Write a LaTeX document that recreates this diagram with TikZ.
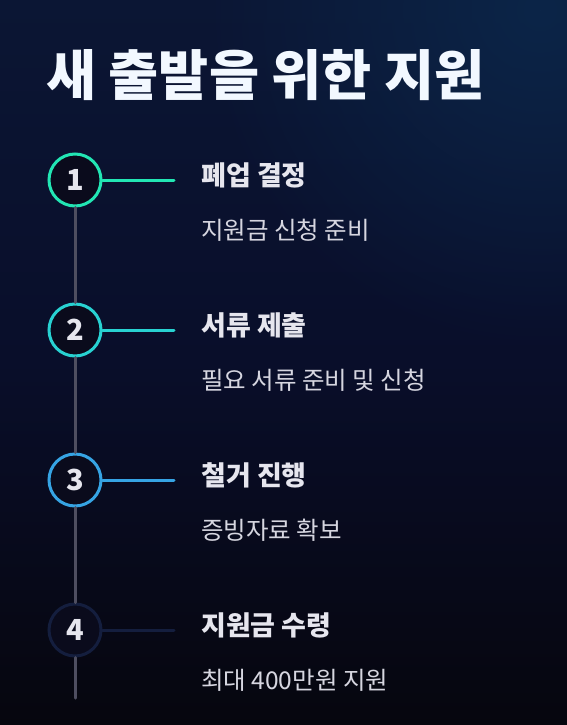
\documentclass[tikz,border=0pt]{standalone}
\usepackage{fontspec}
\setmainfont{Noto Sans CJK KR}
\usetikzlibrary{fadings}
\definecolor{bgtop}{HTML}{0B1634}
\definecolor{bgmid}{HTML}{090E2A}
\definecolor{bgbot}{HTML}{06060E}
\definecolor{glowc}{HTML}{0C2548}
\definecolor{cA}{HTML}{22E6B4}
\definecolor{cB}{HTML}{28D2D2}
\definecolor{cC}{HTML}{36A4E4}
\definecolor{cD}{HTML}{141E3E}
\definecolor{circfill}{HTML}{0A0B1C}
\definecolor{railc}{HTML}{4E4E60}
\definecolor{titlec}{HTML}{F2F8FF}
\definecolor{headc}{HTML}{E6E6EE}
\definecolor{subc}{HTML}{D6D6E0}
\tikzfading[name=glowfade, inner color=transparent!0, outer color=transparent!100]
\tikzset{
  stepcirc/.style={circle, draw=#1, line width=3pt, fill=circfill, minimum size=52pt, inner sep=0pt,
    font=\fontsize{29}{29}\selectfont\bfseries, text=headc},
  link/.style={draw=#1, line width=3pt, line cap=round},
  head/.style={anchor=west, inner sep=0pt, font=\fontsize{27}{27}\selectfont\bfseries, text=headc},
  sub/.style={anchor=west, inner sep=0pt, font=\fontsize{24.5}{24.5}\selectfont, text=subc},
}
\begin{document}
\begin{tikzpicture}[x=1pt,y=-1pt]
\useasboundingbox (0,0) rectangle (567,725);
\shade[top color=bgtop, bottom color=bgbot, middle color=bgmid] (0,0) rectangle (567,725);
\begin{scope}
\clip (0,0) rectangle (567,725);
\fill[glowc, path fading=glowfade] (540,10) circle (340);
\end{scope}
\node[anchor=west, inner sep=0pt, font=\fontsize{54.5}{54.5}\selectfont\bfseries, text=titlec] (title) at (46,75) {새 출발을 위한 지원};
\coordinate (railend) at (75,698);
\node[stepcirc=cA] (c1) at (75,180) {1};
\node[stepcirc=cB] (c2) at (75,330) {2};
\node[stepcirc=cC] (c3) at (75,480) {3};
\node[stepcirc=cD] (c4) at (75,630) {4};
\coordinate (e1) at (174,180);
\coordinate (e2) at (174,330);
\coordinate (e3) at (174,480);
\coordinate (e4) at (174,630);
\draw[link=railc] (c1.south) -- (c2.north);
\draw[link=railc] (c2.south) -- (c3.north);
\draw[link=railc] (c3.south) -- (c4.north);
\draw[link=railc] (c4.south) -- (railend);
\draw[link=cA] (c1.east) -- (e1);
\draw[link=cB] (c2.east) -- (e2);
\draw[link=cC] (c3.east) -- (e3);
\draw[link=cD] (c4.east) -- (e4);
\node[head] (h1) at (201,175) {폐업 결정};
\node[sub] (s1) at (201,230) {지원금 신청 준비};
\node[head] (h2) at (201,325) {서류 제출};
\node[sub] (s2) at (201,380) {필요 서류 준비 및 신청};
\node[head] (h3) at (201,475) {철거 진행};
\node[sub] (s3) at (201,530) {증빙자료 확보};
\node[head] (h4) at (201,625) {지원금 수령};
\node[sub] (s4) at (201,680) {최대 400만원 지원};
\end{tikzpicture}
\end{document}
